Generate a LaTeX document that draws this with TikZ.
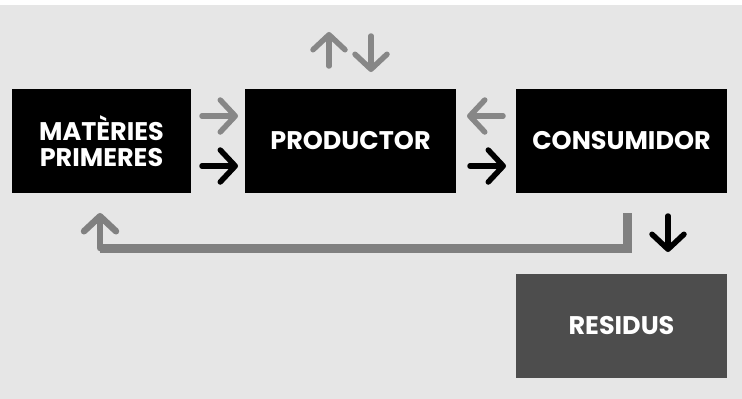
\documentclass[tikz,border=0pt]{standalone}
\usepackage{fontspec}
\setmainfont{Poppins}
\usetikzlibrary{arrows.meta}
\definecolor{bg}{HTML}{E6E6E6}
\definecolor{garr}{HTML}{878787}
\definecolor{fbline}{HTML}{808080}
\definecolor{resid}{HTML}{4D4D4D}
\tikzset{
  box/.style={fill=black, text=white, inner sep=0pt, outer sep=0pt, align=center,
    font=\fontsize{25.5}{26}\selectfont\bfseries},
  arr/.style={line width=5.5pt, line cap=round,
    -{Straight Barb[length=15pt,width=32pt,line cap=round,line join=round]}},
  garrow/.style={arr, draw=garr},
  barrow/.style={arr, draw=black},
}
\begin{document}
\begin{tikzpicture}[x=1pt,y=-1pt]
\fill[white] (0,0) rectangle (742,399);
\fill[bg] (0,5) rectangle (742,399);
\useasboundingbox (0,0) rectangle (742,399);

\node[box, minimum width=179pt, minimum height=104pt] (mp) at (101.5,141) {MATÈRIES\\PRIMERES};
\node[box, minimum width=211pt, minimum height=104pt] (pr) at (350.5,141) {PRODUCTOR};
\node[box, minimum width=211pt, minimum height=104pt] (co) at (621.5,141) {CONSUMIDOR};
\node[box, fill=resid, minimum width=211pt, minimum height=104pt] (re) at (621.5,325.5) {RESIDUS};

% arrows between boxes
\coordinate (g1s) at (202,116); \coordinate (g1e) at (238,116);
\coordinate (b1s) at (202,166); \coordinate (b1e) at (238,166);
\coordinate (g2s) at (503,116); \coordinate (g2e) at (467,116);
\coordinate (b2s) at (470,166); \coordinate (b2e) at (506,166);
\coordinate (ups) at (329,66);  \coordinate (upe) at (329,32);
\coordinate (dns) at (371,36);  \coordinate (dne) at (371,72);
\coordinate (rds) at (668,216); \coordinate (rde) at (668,252);

\draw[garrow] (g1s) -- (g1e);
\draw[barrow] (b1s) -- (b1e);
\draw[garrow] (g2s) -- (g2e);
\draw[barrow] (b2s) -- (b2e);
\draw[garrow] (ups) -- (upe);
\draw[garrow] (dns) -- (dne);
\draw[barrow] (rds) -- (rde);

% feedback loop
\coordinate (fb1) at (627,213);
\coordinate (fb2) at (100,248);
\coordinate (fb3) at (100,213);
\draw[draw=fbline, line width=9pt] (fb1) |- (fb2);
\draw[arr, draw=fbline, line width=6.5pt] (fb2) -- (fb3);
\end{tikzpicture}
\end{document}
